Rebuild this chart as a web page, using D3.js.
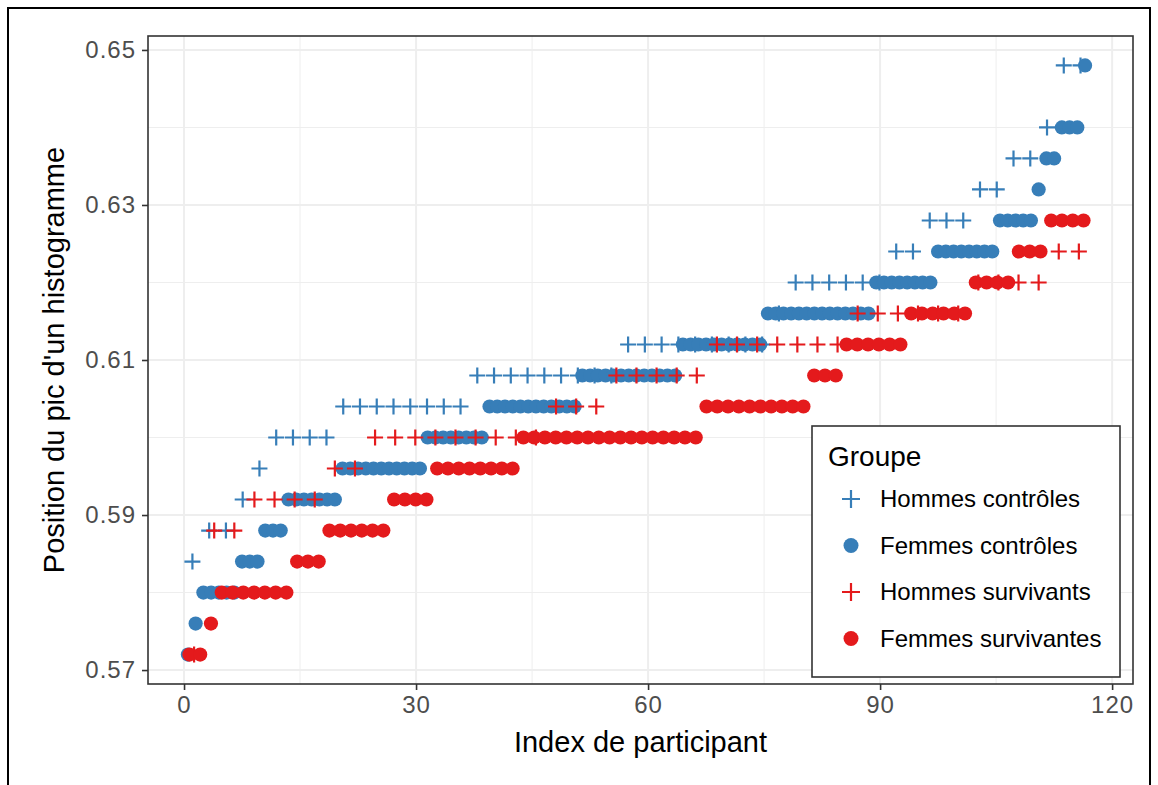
<!DOCTYPE html>
<html>
<head>
<meta charset="utf-8">
<script src="https://cdn.jsdelivr.net/npm/d3@7"></script>
<style>
  html, body { margin: 0; padding: 0; background: #ffffff; }
  svg { display: block; }
</style>
</head>
<body>
<svg id="chart" width="1158" height="785"></svg>
<script>
// Histogram peak positions (levels) observed in the study
const peakLevels = [0.572, 0.576, 0.580, 0.584, 0.588, 0.592, 0.596, 0.600, 0.604, 0.608,
                    0.612, 0.616, 0.620, 0.624, 0.628, 0.632, 0.636, 0.640, 0.644, 0.648];

// Number of participants of each group whose peak sits at each level
const hommesControles   = [0, 0, 0, 1, 2, 1, 1, 4, 8, 9, 9, 1, 6, 2, 3, 2, 2, 1, 0, 2];
const femmesControles   = [1, 1, 5, 3, 3, 7, 11, 8, 12, 13, 11, 14, 8, 8, 5, 1, 2, 3, 0, 1];
const hommesSurvivants  = [1, 0, 0, 0, 2, 4, 2, 9, 3, 5, 7, 6, 4, 2, 0, 0, 0, 0, 0, 0];
const femmesSurvivantes = [2, 1, 7, 3, 6, 4, 8, 17, 10, 3, 6, 6, 4, 3, 4, 0, 0, 0, 0, 0];

const groupNames  = ["Hommes contrôles", "Femmes contrôles", "Hommes survivants", "Femmes survivantes"];
const groupCounts = [hommesControles, femmesControles, hommesSurvivants, femmesSurvivantes];
const groupColors = ["#377EB8", "#377EB8", "#E41A1C", "#E41A1C"];
const groupShapes = ["cross", "circle", "cross", "circle"];

const xTicks = [0, 30, 60, 90, 120];
const xMinor = [15, 45, 75, 105];
const yTicks = [0.57, 0.59, 0.61, 0.63, 0.65];
const yMinor = [0.58, 0.60, 0.62, 0.64];

// Participants are ranked within their group and spread over the common index range
const indexSpan = 117;

const groups = groupNames.map((name, g) => {
  const values = [];
  groupCounts[g].forEach((c, i) => { for (let k = 0; k < c; k++) values.push(peakLevels[i]); });
  const n = values.length;
  return {
    name, color: groupColors[g], shape: groupShapes[g],
    points: values.map((v, r) => ({ index: (r + 0.5) * indexSpan / n, value: v }))
  };
});

const svg = d3.select("#chart");
const W = 1158, H = 785;
const panel = { left: 148, right: 1133, top: 36, bottom: 684 };

svg.append("rect").attr("width", W).attr("height", H).attr("fill", "#ffffff");

const x = d3.scaleLinear().domain([-4.66, 122.7]).range([panel.left, panel.right]);
const y = d3.scaleLinear().domain([0.5682, 0.6518]).range([panel.bottom, panel.top]);

// Panel background and grid
svg.append("rect")
  .attr("x", panel.left).attr("y", panel.top)
  .attr("width", panel.right - panel.left).attr("height", panel.bottom - panel.top)
  .attr("fill", "#ffffff");

const grid = svg.append("g").attr("stroke", "#eeeeee");
grid.selectAll("line.xmin").data(xMinor).join("line")
  .attr("x1", d => x(d)).attr("x2", d => x(d))
  .attr("y1", panel.top).attr("y2", panel.bottom).attr("stroke-width", 1);
grid.selectAll("line.ymin").data(yMinor).join("line")
  .attr("y1", d => y(d)).attr("y2", d => y(d))
  .attr("x1", panel.left).attr("x2", panel.right).attr("stroke-width", 1);
grid.selectAll("line.xmaj").data(xTicks).join("line")
  .attr("x1", d => x(d)).attr("x2", d => x(d))
  .attr("y1", panel.top).attr("y2", panel.bottom).attr("stroke-width", 2);
grid.selectAll("line.ymaj").data(yTicks).join("line")
  .attr("y1", d => y(d)).attr("y2", d => y(d))
  .attr("x1", panel.left).attr("x2", panel.right).attr("stroke-width", 2);

// Points, drawn group by group
const crossHalf = 8, circleR = 7.1;
const plot = svg.append("g");
groups.forEach(gr => {
  const layer = plot.append("g");
  if (gr.shape === "circle") {
    layer.selectAll("circle").data(gr.points).join("circle")
      .attr("cx", d => x(d.index)).attr("cy", d => y(d.value))
      .attr("r", circleR).attr("fill", gr.color);
  } else {
    layer.selectAll("path").data(gr.points).join("path")
      .attr("transform", d => `translate(${x(d.index)},${y(d.value)})`)
      .attr("d", `M${-crossHalf},0H${crossHalf}M0,${-crossHalf}V${crossHalf}`)
      .attr("stroke", gr.color).attr("stroke-width", 2.2).attr("fill", "none");
  }
});

// Panel border
svg.append("rect")
  .attr("x", panel.left).attr("y", panel.top)
  .attr("width", panel.right - panel.left).attr("height", panel.bottom - panel.top)
  .attr("fill", "none").attr("stroke", "#333333").attr("stroke-width", 1.6);

// Axes
const font = "'Liberation Sans', Arial, Helvetica, sans-serif";
const xAxis = svg.append("g")
  .attr("transform", `translate(0,${panel.bottom})`)
  .call(d3.axisBottom(x).tickValues(xTicks).tickSize(6).tickPadding(4).tickFormat(d3.format("d")));
const yAxis = svg.append("g")
  .attr("transform", `translate(${panel.left},0)`)
  .call(d3.axisLeft(y).tickValues(yTicks).tickSize(6).tickPadding(6).tickFormat(d3.format(".2f")));
[xAxis, yAxis].forEach(a => {
  a.select(".domain").remove();
  a.selectAll(".tick line").attr("stroke", "#333333").attr("stroke-width", 1.6);
  a.selectAll(".tick text").attr("fill", "#4d4d4d")
    .style("font-family", font).style("font-size", "24px").style("letter-spacing", "1px");
});
xAxis.selectAll(".tick text").attr("dy", "0.8em");

svg.append("text")
  .attr("x", (panel.left + panel.right) / 2).attr("y", 752)
  .attr("text-anchor", "middle")
  .style("font-family", font).style("font-size", "29px").attr("fill", "#000")
  .text("Index de participant");

svg.append("text")
  .attr("transform", `translate(64,${(panel.top + panel.bottom) / 2}) rotate(-90)`)
  .attr("text-anchor", "middle")
  .style("font-family", font).style("font-size", "29px").attr("fill", "#000")
  .text("Position du pic d'un histogramme");

// Legend
const legend = svg.append("g").attr("transform", "translate(812,426)");
legend.append("rect").attr("width", 308).attr("height", 251)
  .attr("fill", "#ffffff").attr("stroke", "#333333").attr("stroke-width", 1.6);
legend.append("text").attr("x", 16).attr("y", 40)
  .style("font-family", font).style("font-size", "28px").attr("fill", "#000")
  .text("Groupe");
const items = legend.selectAll("g.item").data(groups).join("g")
  .attr("transform", (d, i) => `translate(39,${73 + i * 46.5})`);
items.each(function (d) {
  const g = d3.select(this);
  if (d.shape === "circle") {
    g.append("circle").attr("r", 7.5).attr("fill", d.color);
  } else {
    g.append("path").attr("d", "M-9,0H9M0,-9V9")
      .attr("stroke", d.color).attr("stroke-width", 2.2);
  }
});
items.append("text").attr("x", 29).attr("dy", "0.35em")
  .style("font-family", font).style("font-size", "24px").attr("fill", "#000")
  .text(d => d.name);

// Outer frame
svg.append("rect").attr("x", 8).attr("y", 8).attr("width", 1142).attr("height", 800)
  .attr("fill", "none").attr("stroke", "#000").attr("stroke-width", 2);
</script>
</body>
</html>
